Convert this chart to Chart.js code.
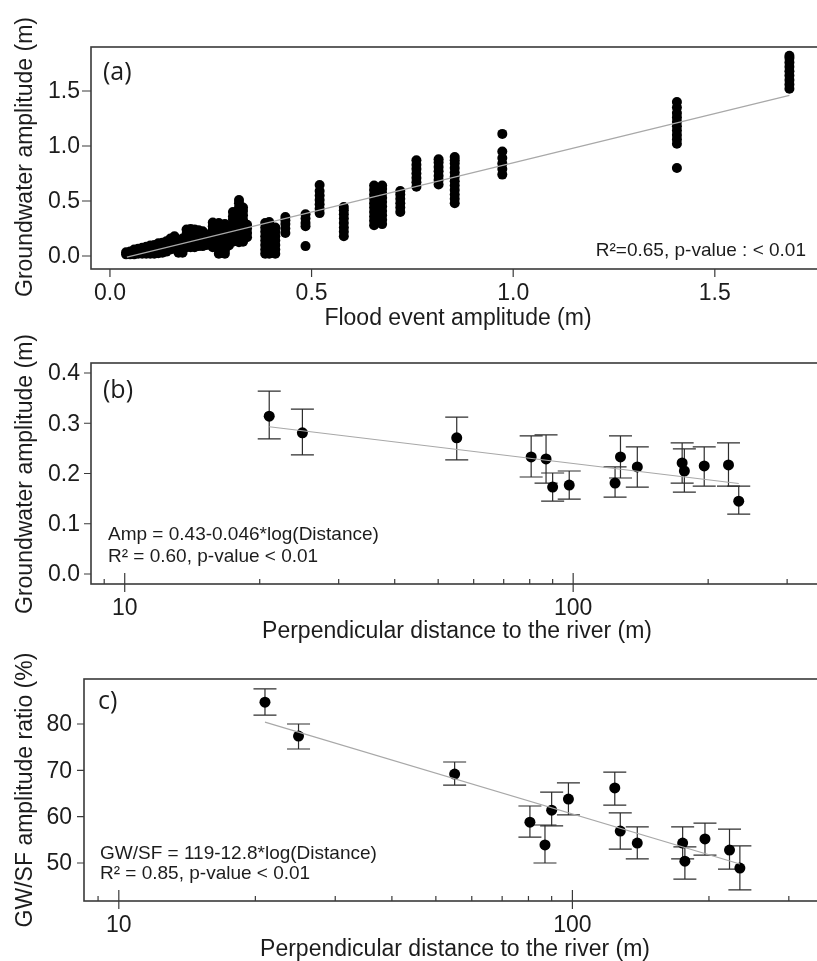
<!DOCTYPE html>
<html>
<head>
<meta charset="utf-8">
<script src="https://cdn.jsdelivr.net/npm/chart.js@4.4.1/dist/chart.umd.min.js"></script>
<style>
  html, body { margin: 0; padding: 0; background: #fff; overflow: hidden; }
  canvas { position: absolute; left: 0; display: block; }
</style>
</head>
<body>
<canvas id="chartA" width="817" height="335" style="top:0"></canvas>
<canvas id="chartB" width="817" height="315" style="top:335px"></canvas>
<canvas id="chartC" width="817" height="311" style="top:650px"></canvas>
<script>
// (a) groundwater amplitude per flood event, grouped by flood amplitude
const floodAmp = [0.04, 0.05, 0.06, 0.07, 0.08, 0.09, 0.10, 0.11, 0.12, 0.13, 0.14, 0.15, 0.16, 0.17, 0.18,
  0.19, 0.20, 0.21, 0.22, 0.23, 0.24, 0.255, 0.27, 0.285, 0.295, 0.305, 0.32, 0.33, 0.34,
  0.385, 0.395, 0.41, 0.435, 0.485, 0.52, 0.58, 0.655, 0.675, 0.72, 0.76, 0.815, 0.855, 0.973, 1.406, 1.685];
const gwAmpByFlood = [
  [0.015, 0.035], [0.015, 0.04], [0.015, 0.04, 0.06], [0.02, 0.045, 0.065], [0.02, 0.05, 0.075],
  [0.02, 0.05, 0.085], [0.02, 0.055, 0.095], [0.02, 0.06, 0.10], [0.025, 0.07, 0.115], [0.03, 0.075, 0.12],
  [0.04, 0.085, 0.135], [0.06, 0.11, 0.16], [0.065, 0.12, 0.18], [0.03, 0.07, 0.11, 0.14], [0.03, 0.08, 0.13, 0.16],
  [0.08, 0.12, 0.16, 0.20, 0.24], [0.08, 0.13, 0.18, 0.22, 0.245], [0.08, 0.12, 0.17, 0.21, 0.24],
  [0.09, 0.14, 0.19, 0.235], [0.09, 0.13, 0.18, 0.225], [0.10, 0.15, 0.195],
  [0.08, 0.12, 0.16, 0.20, 0.24, 0.27, 0.305],
  [0.02, 0.06, 0.10, 0.14, 0.18, 0.22, 0.26, 0.30],
  [0.02, 0.05, 0.09, 0.13, 0.17, 0.21, 0.25, 0.29],
  [0.095, 0.13, 0.17, 0.21, 0.25],
  [0.13, 0.17, 0.21, 0.25, 0.29, 0.33, 0.36, 0.40],
  [0.125, 0.16, 0.20, 0.24, 0.28, 0.32, 0.36, 0.40, 0.44, 0.48, 0.51],
  [0.13, 0.17, 0.21, 0.25, 0.29, 0.33, 0.37, 0.41, 0.44],
  [0.17, 0.21, 0.25, 0.285],
  [0.02, 0.06, 0.10, 0.14, 0.18, 0.22, 0.26, 0.30],
  [0.02, 0.05, 0.09, 0.13, 0.17, 0.21, 0.25, 0.29, 0.31],
  [0.02, 0.06, 0.10, 0.14, 0.18, 0.22, 0.26],
  [0.21, 0.25, 0.29, 0.325, 0.355],
  [0.09, 0.27, 0.30, 0.34, 0.38],
  [0.39, 0.43, 0.47, 0.51, 0.55, 0.59, 0.645],
  [0.18, 0.22, 0.26, 0.30, 0.34, 0.38, 0.415, 0.445],
  [0.28, 0.32, 0.36, 0.40, 0.44, 0.48, 0.52, 0.56, 0.60, 0.64],
  [0.29, 0.33, 0.37, 0.41, 0.45, 0.49, 0.53, 0.57, 0.61, 0.64],
  [0.40, 0.44, 0.48, 0.52, 0.56, 0.59],
  [0.63, 0.67, 0.71, 0.75, 0.79, 0.83, 0.87],
  [0.65, 0.69, 0.73, 0.77, 0.81, 0.85, 0.88],
  [0.48, 0.52, 0.56, 0.60, 0.64, 0.68, 0.72, 0.76, 0.80, 0.84, 0.87, 0.90],
  [0.74, 0.79, 0.84, 0.89, 0.95, 1.11],
  [0.80, 1.02, 1.06, 1.10, 1.14, 1.18, 1.22, 1.26, 1.30, 1.35, 1.40],
  [1.52, 1.56, 1.60, 1.64, 1.68, 1.72, 1.76, 1.80, 1.82]
];
const fitAX = [0.042, 1.685];
const fitAY = [-0.01, 1.46];

// (b) and (c): per-well means with error bars against distance to the river
const distance = [21.0, 24.9, 55.0, 80.6, 87.0, 90.0, 98.0, 124.0, 127.5, 139.0, 175.0, 177.0, 196.0, 222.0, 234.0];
const gwMean = [0.314, 0.281, 0.271, 0.233, 0.229, 0.173, 0.177, 0.181, 0.233, 0.213, 0.221, 0.205, 0.215, 0.217, 0.145];
const gwLow  = [0.269, 0.237, 0.227, 0.193, 0.181, 0.145, 0.149, 0.153, 0.191, 0.173, 0.181, 0.163, 0.175, 0.175, 0.119];
const gwHigh = [0.364, 0.328, 0.312, 0.275, 0.277, 0.201, 0.205, 0.213, 0.275, 0.253, 0.261, 0.249, 0.253, 0.261, 0.175];
const fitBX = [21, 234];
const fitBY = [0.293, 0.180];

const ratioMean = [84.7, 77.4, 69.2, 58.8, 53.9, 61.4, 63.8, 66.2, 56.9, 54.3, 54.3, 50.4, 55.2, 52.8, 48.9];
const ratioLow  = [81.9, 74.6, 66.8, 55.6, 50.0, 58.0, 60.4, 62.5, 53.0, 50.9, 50.9, 46.5, 51.7, 48.7, 44.2];
const ratioHigh = [87.6, 80.0, 71.8, 62.3, 58.2, 65.3, 67.3, 69.6, 60.8, 57.8, 57.8, 53.5, 58.6, 57.3, 53.7];
const fitCX = [21, 234];
const fitCY = [80.4, 49.8];

// axis ticks
const ticksAX = [0, 0.5, 1.0, 1.5];
const ticksAY = [0, 0.5, 1.0, 1.5];
const ticksBY = [0, 0.1, 0.2, 0.3, 0.4];
const ticksCY = [50, 60, 70, 80];
const distMajor = [10, 100];
const distMinor = [9, 20, 30, 40, 50, 60, 70, 80, 90, 200, 300];

const FONT = '"Liberation Sans", Arial, sans-serif';
const INK = '#1c1c1c';
const FRAME = '#3a3a3a';

function pairs(xs, ys) { return xs.map((x, i) => ({ x, y: ys[i] })); }

// R-style box, ticks, labels and notes drawn from the chart's scales
function framePlugin(o) {
  return {
    id: 'frame',
    beforeDatasetsDraw(chart) {
      if (!o.bars) return;
      const { ctx, scales: { x, y } } = chart;
      ctx.save();
      ctx.strokeStyle = '#2e2e2e';
      ctx.lineWidth = 1.2;
      o.bars.x.forEach((d, i) => {
        const px = x.getPixelForValue(d);
        const y1 = y.getPixelForValue(o.bars.lo[i]);
        const y2 = y.getPixelForValue(o.bars.hi[i]);
        ctx.beginPath();
        ctx.moveTo(px, y1); ctx.lineTo(px, y2);
        ctx.moveTo(px - 11.5, y1); ctx.lineTo(px + 11.5, y1);
        ctx.moveTo(px - 11.5, y2); ctx.lineTo(px + 11.5, y2);
        ctx.stroke();
      });
      ctx.restore();
    },
    afterDraw(chart) {
      const { ctx, chartArea: a, scales: { x, y } } = chart;
      ctx.save();
      ctx.strokeStyle = FRAME;
      ctx.lineWidth = 1.6;
      ctx.strokeRect(a.left, a.top, a.right - a.left + 10, a.bottom - a.top);

      ctx.lineWidth = 1.2;
      ctx.beginPath();
      o.yTicks.forEach(v => {
        const py = y.getPixelForValue(v);
        ctx.moveTo(a.left - o.yTickLen, py); ctx.lineTo(a.left, py);
      });
      o.xTicks.forEach(v => {
        const px = x.getPixelForValue(v);
        ctx.moveTo(px, a.bottom - o.xTickIn); ctx.lineTo(px, a.bottom + o.xTickOut);
      });
      (o.xMinor || []).forEach(v => {
        const px = x.getPixelForValue(v);
        ctx.moveTo(px, a.bottom - 5); ctx.lineTo(px, a.bottom);
      });
      ctx.stroke();

      ctx.fillStyle = INK;
      ctx.font = '23px ' + FONT;
      ctx.textAlign = 'right';
      ctx.textBaseline = 'middle';
      o.yTicks.forEach(v => ctx.fillText(o.yFmt(v), o.yLabelRight, y.getPixelForValue(v) + 1));
      ctx.textAlign = 'center';
      ctx.textBaseline = 'alphabetic';
      o.xTicks.forEach(v => ctx.fillText(o.xFmt(v), x.getPixelForValue(v), o.xLabelBase));
      ctx.fillText(o.xTitle, o.xTitleX, o.xTitleBase);

      ctx.save();
      ctx.translate(32, o.yTitleY);
      ctx.rotate(-Math.PI / 2);
      ctx.fillText(o.yTitle, 0, 0);
      ctx.restore();

      ctx.textAlign = 'left';
      ctx.font = '25px "Open Sans", sans-serif';
      ctx.fillText(o.tag, o.tagX, o.tagBase);

      ctx.font = '19px ' + FONT;
      o.notes.forEach(n => {
        ctx.textAlign = n.align || 'left';
        ctx.fillText(n.text, n.x, n.y);
      });
      ctx.restore();
    }
  };
}

function makeChart(id, pts, fit, radius, pad, xScale, yScale, frame) {
  return new Chart(document.getElementById(id), {
    type: 'scatter',
    data: {
      datasets: [
        { data: fit, showLine: true, borderColor: '#a8a8a8', borderWidth: 1.1, pointRadius: 0, fill: false },
        { data: pts, pointRadius: radius, pointHoverRadius: radius, backgroundColor: '#000', borderWidth: 0 }
      ]
    },
    options: {
      responsive: false,
      animation: false,
      events: [],
      layout: { padding: pad },
      plugins: { legend: { display: false }, tooltip: { enabled: false } },
      scales: { x: Object.assign({ display: false }, xScale), y: Object.assign({ display: false }, yScale) }
    },
    plugins: [framePlugin(frame)]
  });
}

const pointsA = floodAmp.flatMap((f, i) => gwAmpByFlood[i].map(g => ({ x: f, y: g })));
const one = v => v.toFixed(1);
const plain = v => String(v);

makeChart('chartA', pointsA, pairs(fitAX, fitAY), 5,
  { left: 91, top: 47, right: 0, bottom: 66 },
  { type: 'linear', min: -0.047, max: 1.741 },
  { type: 'linear', min: -0.118, max: 1.9 },
  {
    yTicks: ticksAY, yFmt: one, yTickLen: 9, yLabelRight: 80,
    xTicks: ticksAX, xFmt: one, xTickIn: 0, xTickOut: 8, xLabelBase: 300,
    xTitle: 'Flood event amplitude (m)', xTitleX: 458, xTitleBase: 325,
    yTitle: 'Groundwater amplitude (m)', yTitleY: 157,
    tag: '(a)', tagX: 103, tagBase: 80,
    notes: [{ text: 'R\u00b2=0.65, p-value : < 0.01', x: 806, y: 256, align: 'right' }]
  });

makeChart('chartB', pairs(distance, gwMean), pairs(fitBX, fitBY), 5.5,
  { left: 91, top: 28, right: 0, bottom: 66 },
  { type: 'logarithmic', min: 8.41, max: 340 },
  { type: 'linear', min: -0.0199, max: 0.4199 },
  {
    bars: { x: distance, lo: gwLow, hi: gwHigh },
    yTicks: ticksBY, yFmt: one, yTickLen: 7, yLabelRight: 80,
    xTicks: distMajor, xMinor: distMinor, xFmt: plain, xTickIn: 11, xTickOut: 8, xLabelBase: 280,
    xTitle: 'Perpendicular distance to the river (m)', xTitleX: 457, xTitleBase: 303,
    yTitle: 'Groundwater amplitude (m)', yTitleY: 139,
    tag: '(b)', tagX: 103, tagBase: 63,
    notes: [
      { text: 'Amp = 0.43-0.046*log(Distance)', x: 108, y: 205 },
      { text: 'R\u00b2 = 0.60, p-value < 0.01', x: 108, y: 227 }
    ]
  });

makeChart('chartC', pairs(distance, ratioMean), pairs(fitCX, fitCY), 5.5,
  { left: 84, top: 29, right: 0, bottom: 60 },
  { type: 'logarithmic', min: 8.38, max: 336.6 },
  { type: 'linear', min: 41.8, max: 89.71 },
  {
    bars: { x: distance, lo: ratioLow, hi: ratioHigh },
    yTicks: ticksCY, yFmt: plain, yTickLen: 7, yLabelRight: 72,
    xTicks: distMajor, xMinor: distMinor, xFmt: plain, xTickIn: 11, xTickOut: 8, xLabelBase: 282,
    xTitle: 'Perpendicular distance to the river (m)', xTitleX: 455, xTitleBase: 306,
    yTitle: 'GW/SF amplitude ratio (%)', yTitleY: 140,
    tag: 'c)', tagX: 98, tagBase: 59,
    notes: [
      { text: 'GW/SF = 119-12.8*log(Distance)', x: 100, y: 209 },
      { text: 'R\u00b2 = 0.85, p-value < 0.01', x: 100, y: 229 }
    ]
  });
</script>
</body>
</html>
